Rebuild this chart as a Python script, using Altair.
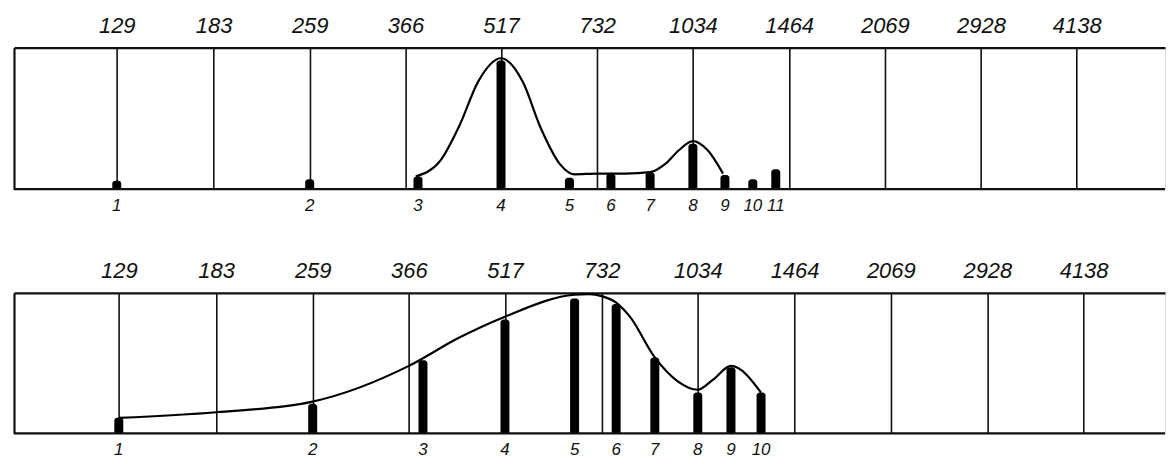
import altair as alt
import pandas as pd

# Frequency grid (Hz) shown on top of both panels
grid_freqs = [129, 183, 259, 366, 517, 732, 1034, 1464, 2069, 2928, 4138]

# Upper panel: spectral lines (frequency, relative amplitude) and envelope
top_bar_no = ["1", "2", "3", "4", "5", "6", "7", "8", "9", "10", "11"]
top_bar_freq = [129, 259, 383, 517, 662, 769, 886, 1034, 1161, 1284, 1395]
top_bar_val = [6, 7, 9, 91, 8, 11, 12, 32, 10, 7, 14]
top_curve_freq = [380, 415, 445, 476, 517, 559, 597, 640, 674, 732, 810, 886, 937, 983, 1034, 1091, 1153]
top_curve_val = [9, 20, 45, 76, 92.5, 76, 43, 17.5, 10.5, 11, 11, 12, 18, 27.5, 34, 27.5, 11]

# Lower panel
bot_bar_no = ["1", "2", "3", "4", "5", "6", "7", "8", "9", "10"]
bot_bar_freq = [129, 259, 385, 517, 664, 771, 886, 1034, 1165, 1298]
bot_bar_val = [11, 21, 52, 81, 96, 92, 54, 29, 47, 29]
bot_curve_freq = [129, 183, 259, 366, 438, 517, 664, 700, 732, 771, 810, 886, 962, 1034, 1091, 1165, 1298]
bot_curve_val = [11, 15, 22.6, 48, 68, 83, 98.6, 99, 97.6, 93, 83, 54, 37, 31, 38, 48, 29]

W = 1155
FONT = "Liberation Sans"


def panel(bar_no, bar_freq, bar_val, curve_freq, curve_val, h, dom):
    xs = alt.Scale(type="log", domain=dom, nice=False)
    ys = alt.Scale(domain=[0, 100], nice=False)
    bars_df = pd.DataFrame({"no": bar_no, "f": bar_freq, "v": bar_val})
    curve_df = pd.DataFrame({"f": curve_freq, "v": curve_val})

    bars = alt.Chart(bars_df).mark_bar(
        size=9, color="black", cornerRadiusTopLeft=3, cornerRadiusTopRight=3
    ).encode(
        x=alt.X("f:Q", scale=xs, axis=alt.Axis(
            orient="top", values=grid_freqs, format="d", title=None,
            grid=True, gridColor="#111", gridWidth=1.6, gridOpacity=1,
            ticks=False, domain=True, domainColor="#111", domainWidth=2.2,
            labelFont=FONT, labelFontStyle="italic", labelFontSize=22,
            labelColor="#111", labelPadding=10, labelFlush=False, labelOverlap=False)),
        y=alt.Y("v:Q", scale=ys, axis=alt.Axis(
            labels=False, ticks=False, grid=False, title=None,
            domain=True, domainColor="#111", domainWidth=2.2)),
        y2=alt.datum(0),
    )
    curve = alt.Chart(curve_df).mark_line(
        color="black", strokeWidth=2.2, interpolate="monotone"
    ).encode(x=alt.X("f:Q", scale=xs), y=alt.Y("v:Q", scale=ys))
    base = alt.Chart(pd.DataFrame({"a": [0]})).mark_rule(
        color="#111", strokeWidth=2.2
    ).encode(x=alt.value(0), x2=alt.value(W), y=alt.value(h))
    nums = alt.Chart(bars_df).mark_text(
        font=FONT, fontStyle="italic", fontSize=17, color="#111", baseline="top"
    ).encode(x=alt.X("f:Q", scale=xs), y=alt.value(h + 9), text="no:N")
    return alt.layer(bars, curve, base, nums).properties(width=W, height=h)


top = panel(top_bar_no, top_bar_freq, top_bar_val, top_curve_freq, top_curve_val, 142, [90.6, 5591])
bot = panel(bot_bar_no, bot_bar_freq, bot_bar_val, bot_curve_freq, bot_curve_val, 141, [90.1, 5447])

chart = alt.vconcat(top, bot, spacing=104, bounds="flush").properties(
    padding={"left": 4, "top": 5, "right": 0, "bottom": 0}
).configure_view(stroke=None).configure(background="white")

chart.save("out.html", embed_options={"renderer": "svg", "actions": False})
